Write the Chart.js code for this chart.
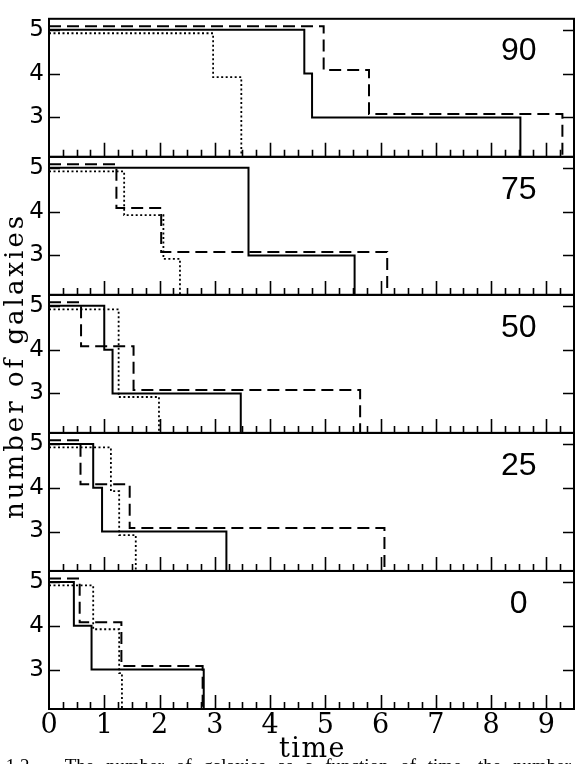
<!DOCTYPE html>
<html><head><meta charset="utf-8">
<script src="https://cdn.jsdelivr.net/npm/chart.js@4"></script>
<style>
html,body{margin:0;padding:0;background:#fff;width:581px;height:764px;overflow:hidden;}
#wrap{position:relative;width:581px;height:764px;overflow:hidden;}
canvas{position:absolute;left:0;top:0;}
#caption{position:absolute;left:-36px;top:755px;font:19px "Liberation Serif",serif;white-space:nowrap;word-spacing:7px;color:#000;}
</style></head><body>
<div id="wrap"><canvas id="c" width="581" height="764"></canvas>
<div id="caption">Fig. 1.2.— The number of galaxies as a function of time, the number and the</div></div>
<script>
// ---- data ----
const panelLabels = ['90', '75', '50', '25', '0'];
const panelIds = ['p90', 'p75', 'p50', 'p25', 'p0'];
const xTicks = [0, 1, 2, 3, 4, 5, 6, 7, 8, 9];
const yTicks = [3, 4, 5];
const levelsSolid  = [5, 4, 3, 2];
const levelsDashed = [5.08, 4.08, 3.08, 2];
const levelsDotted = [4.92, 3.92, 2.92, 2];
// times at which each curve steps down (5->4, 4->3, 3->2)
const drop90Solid  = [4.62, 4.76, 8.53];
const drop90Dashed = [4.97, 5.79, 9.29];
const drop90Dotted = [2.97, 3.48, 3.48];
const drop75Solid  = [3.61, 3.61, 5.53];
const drop75Dashed = [1.22, 2.03, 6.12];
const drop75Dotted = [1.36, 2.07, 2.37];
const drop50Solid  = [1.00, 1.15, 3.47];
const drop50Dashed = [0.58, 1.53, 5.63];
const drop50Dotted = [1.26, 1.26, 1.99];
const drop25Solid  = [0.80, 0.96, 3.21];
const drop25Dashed = [0.57, 1.46, 6.07];
const drop25Dotted = [1.12, 1.27, 1.57];
const drop0Solid   = [0.45, 0.77, 2.80];
const drop0Dashed  = [0.555, 1.31, 2.78];
const drop0Dotted  = [0.80, 1.27, 1.32];
const xTitle = 'time';
const yTitle = 'number of galaxies';

// ---- config ----
const xMin = 0, xMax = 9.5, yMin = 2.1, yMax = 5.25;
const minorStep = 0.25;
const labelX = 8.5, labelY = 4.5;

const panelDrops = {
  p90: [drop90Solid, drop90Dashed, drop90Dotted],
  p75: [drop75Solid, drop75Dashed, drop75Dotted],
  p50: [drop50Solid, drop50Dashed, drop50Dotted],
  p25: [drop25Solid, drop25Dashed, drop25Dotted],
  p0:  [drop0Solid,  drop0Dashed,  drop0Dotted]
};
const styles = [
  {levels: levelsSolid,  dash: [],      width: 2},
  {levels: levelsDashed, dash: [12, 6], width: 2},
  {levels: levelsDotted, dash: [2, 2.5], width: 1.8}
];

const datasets = [];
panelIds.forEach(id => {
  panelDrops[id].forEach((drops, s) => {
    const st = styles[s];
    const pts = [{x: 0, y: st.levels[0]}];
    drops.forEach((t, k) => pts.push({x: t, y: st.levels[k + 1]}));
    datasets.push({
      data: pts, yAxisID: id, xAxisID: 'x',
      borderColor: '#000', borderWidth: st.width, borderDash: st.dash,
      pointRadius: 0, stepped: true, fill: false, tension: 0, borderCapStyle: 'butt'
    });
  });
});

const scales = {
  x: {
    type: 'linear', position: 'bottom', min: xMin, max: xMax,
    grid: {display: false, drawTicks: false}, border: {display: false},
    afterBuildTicks: s => { s.ticks = xTicks.map(v => ({value: v})); },
    afterFit: s => { s.height = 55; },
    ticks: {padding: 1, autoSkip: false, maxRotation: 0, color: '#000',
            font: {family: "'DejaVu Serif', serif", size: 27}}
  }
};
// defined bottom-first: Chart.js places the last left-stacked box at the top
[...panelIds].reverse().forEach(id => {
  scales[id] = {
    type: 'linear', position: 'left', stack: 'panels', stackWeight: 1,
    min: yMin, max: yMax,
    grid: {display: false, drawTicks: false}, border: {display: false},
    afterBuildTicks: s => { s.ticks = yTicks.map(v => ({value: v})); },
    afterFit: s => { s.width = 49; },
    ticks: {padding: 5, color: '#000', font: {family: "'DejaVu Sans', sans-serif", size: 23, weight: 'normal'}}
  };
});

const panelPlugin = {
  id: 'panels',
  beforeDatasetDraw(chart, args) {
    const ds = chart.data.datasets[args.index];
    const ys = chart.scales[ds.yAxisID];
    const a = chart.chartArea;
    const ctx = chart.ctx;
    ctx.save();
    ctx.beginPath();
    ctx.rect(a.left, ys.top, a.right - a.left, ys.bottom - ys.top);
    ctx.clip();
  },
  afterDatasetDraw(chart) { chart.ctx.restore(); },
  afterDraw(chart) {
    const ctx = chart.ctx, a = chart.chartArea, xs = chart.scales.x;
    ctx.save();
    ctx.strokeStyle = '#000';
    ctx.fillStyle = '#000';
    panelIds.forEach((id, i) => {
      const ys = chart.scales[id];
      ctx.lineWidth = 1.6;
      ctx.beginPath();
      const n = Math.round((xMax - xMin) / minorStep);
      for (let k = 1; k < n; k++) {
        const v = xMin + k * minorStep;
        const px = Math.round(xs.getPixelForValue(v)) + 0.5;
        const len = (k % 4 === 0) ? 14 : 7;
        ctx.moveTo(px, ys.bottom);
        ctx.lineTo(px, ys.bottom - len);
      }
      yTicks.forEach(v => {
        const py = Math.round(ys.getPixelForValue(v)) + 0.5;
        ctx.moveTo(a.left, py); ctx.lineTo(a.left + 11, py);
        ctx.moveTo(a.right, py); ctx.lineTo(a.right - 11, py);
      });
      ctx.stroke();
      ctx.lineWidth = 2;
      ctx.strokeRect(a.left, ys.top, a.right - a.left, ys.bottom - ys.top);
      ctx.font = '32px "Liberation Sans"';
      ctx.textAlign = 'center';
      ctx.textBaseline = 'middle';
      ctx.fillText(panelLabels[i], xs.getPixelForValue(labelX), ys.getPixelForValue(labelY));
    });
    ctx.textBaseline = 'alphabetic';
    ctx.textAlign = 'center';
    ctx.font = '27px "DejaVu Serif"';
    ctx.letterSpacing = '1.5px';
    ctx.fillText(xTitle, (a.left + a.right) / 2 + 1, 757);
    ctx.save();
    ctx.font = '26px "DejaVu Serif"';
    ctx.letterSpacing = '3px';
    ctx.translate(23, (a.top + a.bottom) / 2 + 4);
    ctx.rotate(-Math.PI / 2);
    ctx.fillText(yTitle, 2, 0);
    ctx.restore();
    ctx.letterSpacing = '0px';
    ctx.restore();
  }
};

new Chart(document.getElementById('c'), {
  type: 'line',
  data: {datasets},
  options: {
    responsive: false, animation: false, devicePixelRatio: 1,
    layout: {padding: {top: 6, right: 7, left: 0, bottom: 0}},
    plugins: {legend: {display: false}, tooltip: {enabled: false}},
    scales
  },
  plugins: [panelPlugin]
});
</script>
</body></html>
